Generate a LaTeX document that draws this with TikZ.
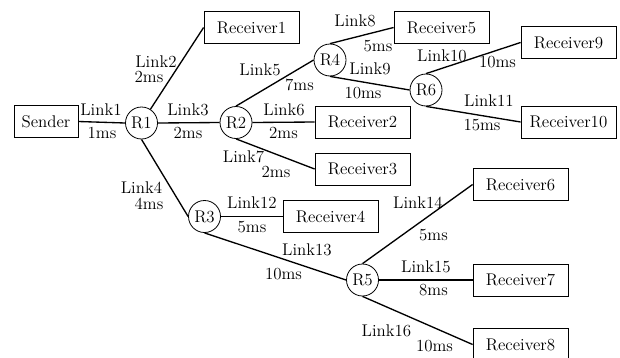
\documentclass[tikz,border=0pt]{standalone}
\usetikzlibrary{positioning}

\begin{document}
\begin{tikzpicture}[x=0.75pt, y=-0.75pt, font=\fontsize{12.7}{14}\selectfont,
  router/.style={draw, circle, minimum size=24pt, inner sep=0pt, line width=0.6pt},
  host/.style={draw, rectangle, minimum width=71.25pt, minimum height=24pt, inner sep=0pt, line width=0.6pt},
  link/.style={line width=1pt},
  lbl/.style={inner sep=0pt}]

  \useasboundingbox (0,0) rectangle (620,357);

  % sender and routers
  \node[host, minimum width=48pt] (snd) at (46,121.5) {Sender};
  \node[router] (r1) at (141.5,123) {R1};
  \node[router] (r2) at (236,122.5) {R2};
  \node[router] (r3) at (204.5,216.5) {R3};
  \node[router] (r4) at (330,60) {R4};
  \node[router] (r5) at (362.5,280) {R5};
  \node[router] (r6) at (426,90) {R6};

  % receivers
  \node[host] (rcv1) at (251.5,27.5) {Receiver1};
  \node[host] (rcv2) at (362.5,122) {Receiver2};
  \node[host] (rcv3) at (362.5,169) {Receiver3};
  \node[host] (rcv4) at (330.5,216.5) {Receiver4};
  \node[host] (rcv5) at (441.5,27.5) {Receiver5};
  \node[host] (rcv6) at (520.5,184.5) {Receiver6};
  \node[host] (rcv7) at (520.5,280) {Receiver7};
  \node[host] (rcv8) at (520.5,344.5) {Receiver8};
  \node[host] (rcv9) at (568.5,42.5) {Receiver9};
  \node[host] (rcv10) at (568.5,122) {Receiver10};

  % links
  \draw[link] (snd.east) -- (r1.west);
  \draw[link] (r1) -- (rcv1.west);
  \draw[link] (r1.east) -- (r2.west);
  \draw[link] (r1.south) -- (r3.west);
  \draw[link] (r2.north) -- (r4.west);
  \draw[link] (r2.east) -- (rcv2.west);
  \draw[link] (r2.south) -- (rcv3.west);
  \draw[link] (r4.north) -- (rcv5.west);
  \draw[link] (r4.south) -- (r6.west);
  \draw[link] (r6.north) -- (rcv9.west);
  \draw[link] (r6.south) -- (rcv10.west);
  \draw[link] (r3.east) -- (rcv4.west);
  \draw[link] (r3.south) -- (r5.west);
  \draw[link] (r5.north) -- (rcv6.west);
  \draw[link] (r5.east) -- (rcv7.west);
  \draw[link] (r5.south) -- (rcv8.west);

  % link names and delays
  \node[lbl] (l1) at (101,109.5) {Link1};
  \node[lbl] (d1) at (102,133) {1ms};
  \node[lbl] (l2) at (156,61.5) {Link2};
  \node[lbl] (d2) at (149,77) {2ms};
  \node[lbl] (l3) at (188,109.5) {Link3};
  \node[lbl] (d3) at (188,133) {2ms};
  \node[lbl] (l4) at (141.5,188) {Link4};
  \node[lbl] (d4) at (149,203.5) {4ms};
  \node[lbl] (l5) at (260,70) {Link5};
  \node[lbl] (d5) at (299.5,85) {7ms};
  \node[lbl] (l6) at (284,109.5) {Link6};
  \node[lbl] (d6) at (283.5,133) {2ms};
  \node[lbl] (l7) at (243.5,157) {Link7};
  \node[lbl] (d7) at (276,172) {2ms};
  \node[lbl] (l8) at (355,21) {Link8};
  \node[lbl] (d8) at (378,46) {5ms};
  \node[lbl] (l9) at (370,69) {Link9};
  \node[lbl] (d9) at (363,93) {10ms};
  \node[lbl] (l10) at (442,56) {Link10};
  \node[lbl] (d10) at (497.5,62.5) {10ms};
  \node[lbl] (l11) at (489,101) {Link11};
  \node[lbl] (d11) at (482,125.5) {15ms};
  \node[lbl] (l12) at (252,203) {Link12};
  \node[lbl] (d12) at (252,227.5) {5ms};
  \node[lbl] (l13) at (307,250) {Link13};
  \node[lbl] (d13) at (283.5,274) {10ms};
  \node[lbl] (l14) at (418,203) {Link14};
  \node[lbl] (d14) at (433.5,235.5) {5ms};
  \node[lbl] (l15) at (426,266.5) {Link15};
  \node[lbl] (d15) at (433.5,290) {8ms};
  \node[lbl] (l16) at (386.5,330.5) {Link16};
  \node[lbl] (d16) at (434.5,346) {10ms};
\end{tikzpicture}
\end{document}
